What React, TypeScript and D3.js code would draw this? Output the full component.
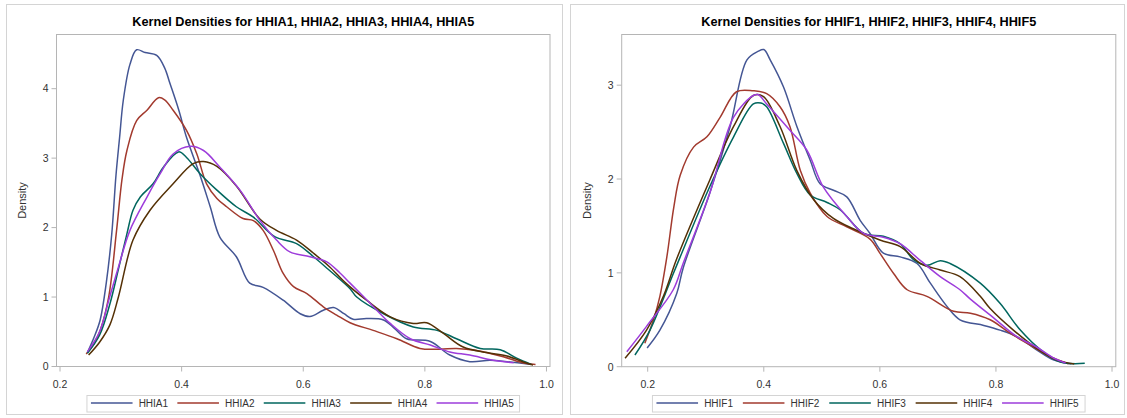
import React from 'react'
import * as d3 from 'd3'

// kernel density curves (x value, density)
const hhia1X = [0.245, 0.256, 0.266, 0.276, 0.285, 0.292, 0.298, 0.304, 0.315, 0.326, 0.34, 0.359, 0.372, 0.381, 0.395, 0.408, 0.43, 0.447, 0.463, 0.49, 0.512, 0.534, 0.567, 0.595, 0.611, 0.633, 0.65, 0.667, 0.682, 0.704, 0.732, 0.75, 0.77, 0.809, 0.841, 0.874, 0.907, 0.935, 0.975]
const hhia1Y = [0.2, 0.42, 0.67, 1.2, 1.9, 2.75, 3.3, 3.83, 4.35, 4.56, 4.52, 4.48, 4.3, 4.07, 3.7, 3.3, 2.76, 2.3, 1.86, 1.58, 1.2, 1.14, 0.955, 0.76, 0.72, 0.81, 0.85, 0.76, 0.68, 0.69, 0.67, 0.55, 0.4, 0.36, 0.165, 0.07, 0.09, 0.07, 0.03]

const hhia2X = [0.243, 0.256, 0.266, 0.28, 0.293, 0.302, 0.31, 0.326, 0.343, 0.362, 0.372, 0.386, 0.408, 0.425, 0.441, 0.458, 0.474, 0.501, 0.518, 0.534, 0.551, 0.567, 0.584, 0.606, 0.633, 0.655, 0.677, 0.715, 0.754, 0.792, 0.825, 0.852, 0.885, 0.929, 0.962, 0.982]
const hhia2Y = [0.18, 0.33, 0.52, 1.0, 1.96, 2.7, 3.11, 3.54, 3.69, 3.87, 3.84, 3.69, 3.4, 3.06, 2.63, 2.42, 2.3, 2.13, 2.1, 1.96, 1.67, 1.34, 1.15, 1.05, 0.86, 0.74, 0.63, 0.52, 0.4, 0.26, 0.25, 0.26, 0.23, 0.14, 0.05, 0.03]

const hhia3X = [0.245, 0.265, 0.282, 0.296, 0.31, 0.32, 0.332, 0.353, 0.37, 0.395, 0.408, 0.43, 0.458, 0.49, 0.518, 0.553, 0.589, 0.617, 0.641, 0.677, 0.688, 0.732, 0.781, 0.82, 0.852, 0.891, 0.924, 0.951, 0.975]
const hhia3Y = [0.19, 0.45, 0.9, 1.4, 1.91, 2.25, 2.44, 2.63, 2.87, 3.09, 3.01, 2.78, 2.54, 2.3, 2.15, 1.87, 1.77, 1.58, 1.4, 1.12, 1.0, 0.76, 0.57, 0.52, 0.4, 0.26, 0.24, 0.12, 0.03]

const hhia4X = [0.247, 0.265, 0.282, 0.296, 0.32, 0.348, 0.386, 0.419, 0.436, 0.458, 0.49, 0.529, 0.556, 0.589, 0.617, 0.644, 0.67, 0.704, 0.743, 0.781, 0.803, 0.83, 0.863, 0.902, 0.935, 0.967, 0.978]
const hhia4Y = [0.165, 0.35, 0.6, 1.0, 1.82, 2.25, 2.63, 2.92, 2.95, 2.88, 2.6, 2.12, 1.96, 1.82, 1.63, 1.43, 1.2, 0.955, 0.715, 0.62, 0.63, 0.48, 0.28, 0.2, 0.15, 0.05, 0.02]

const hhia5X = [0.245, 0.265, 0.28, 0.296, 0.315, 0.343, 0.365, 0.386, 0.414, 0.436, 0.463, 0.496, 0.529, 0.556, 0.578, 0.611, 0.638, 0.66, 0.677, 0.71, 0.743, 0.776, 0.809, 0.841, 0.874, 0.912, 0.946]
const hhia5Y = [0.21, 0.5, 0.95, 1.43, 1.96, 2.44, 2.78, 3.06, 3.17, 3.11, 2.87, 2.54, 2.1, 1.82, 1.65, 1.58, 1.51, 1.35, 1.2, 0.91, 0.62, 0.4, 0.31, 0.21, 0.165, 0.09, 0.055]

const hhif1X = [0.199, 0.221, 0.25, 0.261, 0.307, 0.342, 0.371, 0.39, 0.4, 0.411, 0.434, 0.457, 0.48, 0.497, 0.52, 0.543, 0.566, 0.583, 0.606, 0.635, 0.664, 0.687, 0.716, 0.738, 0.779, 0.807, 0.836, 0.87, 0.9, 0.93]
const hhif1Y = [0.2, 0.39, 0.78, 1.05, 1.85, 2.56, 3.27, 3.36, 3.38, 3.27, 2.98, 2.56, 2.2, 1.95, 1.88, 1.81, 1.56, 1.42, 1.21, 1.17, 1.1, 0.89, 0.64, 0.5, 0.44, 0.39, 0.32, 0.18, 0.07, 0.03]

const hhif2X = [0.195, 0.21, 0.221, 0.233, 0.245, 0.256, 0.279, 0.302, 0.325, 0.353, 0.382, 0.405, 0.428, 0.445, 0.463, 0.48, 0.509, 0.543, 0.583, 0.6, 0.624, 0.647, 0.681, 0.727, 0.756, 0.79, 0.825, 0.859, 0.894, 0.925]
const hhif2Y = [0.25, 0.5, 0.75, 1.17, 1.7, 2.04, 2.34, 2.45, 2.66, 2.93, 2.94, 2.91, 2.77, 2.56, 2.09, 1.85, 1.6, 1.49, 1.36, 1.21, 0.99, 0.82, 0.75, 0.59, 0.57, 0.5, 0.355, 0.23, 0.106, 0.03]

const hhif3X = [0.178, 0.204, 0.244, 0.256, 0.307, 0.348, 0.382, 0.395, 0.405, 0.434, 0.457, 0.48, 0.509, 0.532, 0.572, 0.606, 0.635, 0.658, 0.681, 0.704, 0.721, 0.773, 0.807, 0.842, 0.877, 0.911, 0.953]
const hhif3Y = [0.125, 0.39, 0.99, 1.17, 1.92, 2.45, 2.8, 2.81, 2.77, 2.38, 2.06, 1.83, 1.75, 1.67, 1.42, 1.39, 1.31, 1.14, 1.08, 1.13, 1.1, 0.89, 0.675, 0.39, 0.18, 0.05, 0.036]

const hhif4X = [0.161, 0.198, 0.227, 0.25, 0.307, 0.348, 0.382, 0.399, 0.428, 0.457, 0.486, 0.52, 0.554, 0.6, 0.635, 0.67, 0.704, 0.738, 0.773, 0.79, 0.83, 0.87, 0.905, 0.935]
const hhif4Y = [0.09, 0.39, 0.75, 1.15, 1.99, 2.56, 2.89, 2.88, 2.56, 2.09, 1.78, 1.58, 1.47, 1.35, 1.28, 1.1, 1.03, 0.96, 0.75, 0.62, 0.39, 0.196, 0.07, 0.03]

const hhif5X = [0.164, 0.198, 0.244, 0.261, 0.307, 0.348, 0.382, 0.39, 0.405, 0.445, 0.474, 0.503, 0.543, 0.572, 0.606, 0.635, 0.67, 0.704, 0.738, 0.756, 0.796, 0.836, 0.87, 0.9, 0.92]
const hhif5Y = [0.16, 0.43, 0.82, 1.1, 1.85, 2.66, 2.89, 2.9, 2.8, 2.52, 2.31, 1.91, 1.6, 1.42, 1.38, 1.31, 1.13, 0.96, 0.82, 0.72, 0.52, 0.32, 0.21, 0.09, 0.04]

const leftNames = ['HHIA1', 'HHIA2', 'HHIA3', 'HHIA4', 'HHIA5']
const rightNames = ['HHIF1', 'HHIF2', 'HHIF3', 'HHIF4', 'HHIF5']
const xTicks = [0.2, 0.4, 0.6, 0.8, 1.0]
const leftYTicks = [0, 1, 2, 3, 4]
const rightYTicks = [0, 1, 2, 3]
const colors = ['#445694', '#A23A2E', '#01665E', '#543005', '#9D3CDB']

const leftSeries = [[hhia1X, hhia1Y], [hhia2X, hhia2Y], [hhia3X, hhia3Y], [hhia4X, hhia4Y], [hhia5X, hhia5Y]]
const rightSeries = [[hhif1X, hhif1Y], [hhif2X, hhif2Y], [hhif3X, hhif3Y], [hhif4X, hhif4Y], [hhif5X, hhif5Y]]

const font = 'Arial, "Liberation Sans", sans-serif'

type PanelProps = {
  box: [number, number, number, number]
  frame: [number, number, number, number]
  xDomain: [number, number]
  yMax: number
  yTicks: number[]
  names: string[]
  series: number[][][]
}

const Panel = ({ box, frame, xDomain, yMax, yTicks, names, series }: PanelProps) => {
  const [fx0, fy0, fx1, fy1] = frame
  const x = d3.scaleLinear().domain(xDomain).range([fx0, fx1])
  const y = d3.scaleLinear().domain([0, yMax]).range([fy1, fy0])
  const line = d3.line<[number, number]>()
    .x(d => x(d[0]))
    .y(d => y(d[1]))
    .curve(d3.curveCatmullRom.alpha(0.5))

  const cx = (fx0 + fx1) / 2
  const legendW = 432.6
  const itemW = 86.4
  const lx = cx - legendW / 2

  return (
    <g>
      <rect x={box[0]} y={box[1]} width={box[2] - box[0]} height={box[3] - box[1]} fill="#fff" stroke="#d4d4d4" />
      <text x={cx} y={26} textAnchor="middle" fontFamily={font} fontWeight="bold" fontSize={12.7} fill="#000">
        Kernel Densities for {names.join(', ')}
      </text>
      <rect x={fx0} y={fy0} width={fx1 - fx0} height={fy1 - fy0} fill="none" stroke="#b5b5b5" />
      <g clipPath="none">
        {series.map((s, i) => (
          <path key={names[i]}
            d={line(s[0].map((v, j) => [v, s[1][j]] as [number, number])) || ''}
            fill="none" stroke={colors[i]} strokeWidth={1.5} />
        ))}
      </g>
      {xTicks.map(t => (
        <g key={t}>
          <line x1={x(t)} x2={x(t)} y1={fy1} y2={fy1 + 5} stroke="#b5b5b5" />
          <text x={x(t)} y={387.5} textAnchor="middle" fontFamily={font} fontSize={10.5} fill="#333">
            {d3.format('.1f')(t)}
          </text>
        </g>
      ))}
      {yTicks.map(t => (
        <g key={t}>
          <line x1={fx0 - 5} x2={fx0} y1={y(t)} y2={y(t)} stroke="#b5b5b5" />
          <text x={fx0 - 8} y={y(t) + 3.8} textAnchor="end" fontFamily={font} fontSize={10.5} fill="#333">
            {t}
          </text>
        </g>
      ))}
      <text transform={`translate(${fx0 - 31},${(fy0 + fy1) / 2}) rotate(-90)`} textAnchor="middle"
        fontFamily={font} fontSize={11} fill="#333">Density</text>
      <rect x={lx} y={395.5} width={legendW} height={16.5} fill="none" stroke="#d4d4d4" />
      {names.map((n, i) => (
        <g key={n} transform={`translate(${lx + 4 + i * itemW},403)`}>
          <line x1={0} x2={41.6} y1={0} y2={0} stroke={colors[i]} strokeWidth={1.5} />
          <text x={47.7} y={3.6} fontFamily={font} fontSize={10} fill="#333">{n}</text>
        </g>
      ))}
    </g>
  )
}

const App = () => (
  <div style={{ position: 'absolute', left: 0, top: 0 }}>
    <svg width={1127} height={418} style={{ display: 'block', background: '#fff' }}>
      <Panel box={[6.5, 4.5, 562.5, 414.5]} frame={[56.5, 34.5, 550, 366.5]}
        xDomain={[0.1942, 1.0058]} yMax={4.78} yTicks={leftYTicks}
        names={leftNames} series={leftSeries} />
      <Panel box={[570.5, 4.5, 1124.5, 414.5]} frame={[621.7, 34.5, 1115.8, 366.7]}
        xDomain={[0.1552, 1.0065]} yMax={3.54} yTicks={rightYTicks}
        names={rightNames} series={rightSeries} />
    </svg>
  </div>
)

export default App
